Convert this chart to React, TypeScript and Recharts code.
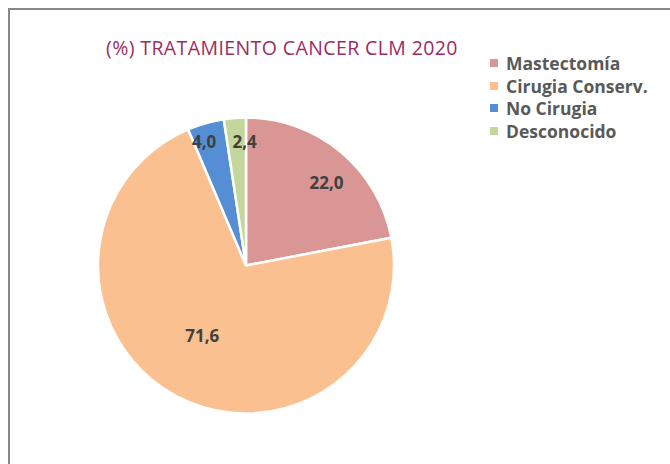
import { Cell, Legend, Pie, PieChart } from "recharts";

const CATEGORIES = ["Mastectomía", "Cirugia Conserv.", "No Cirugia", "Desconocido"];
const VALUES = [22.0, 71.6, 4.0, 2.4];
const COLORS = ["#D99694", "#FAC090", "#558ED5", "#C3D69B"];

const TITLE = "(%) TRATAMIENTO CANCER CLM 2020";

// posición de las etiquetas: fracción del radio + pequeño ajuste en px
const LABEL_RATIO = [0.78, 0.556, 0.888, 0.841];
const LABEL_NUDGE = [
  [7, 6],
  [-5, -3],
  [-6, 2],
  [8, 0],
];

const FONT = "'Open Sans', 'Noto Sans', sans-serif";
const RAD = Math.PI / 180;

const data = CATEGORIES.map((name, i) => ({ name, value: VALUES[i] }));

function SliceLabel(props: any) {
  const { cx, cy, midAngle, outerRadius, index, value } = props;
  const r = outerRadius * LABEL_RATIO[index];
  const x = cx + r * Math.cos(-midAngle * RAD) + LABEL_NUDGE[index][0];
  const y = cy + r * Math.sin(-midAngle * RAD) + LABEL_NUDGE[index][1];
  return (
    <text
      x={x}
      y={y}
      fill="#404040"
      fontFamily={FONT}
      fontWeight={700}
      fontSize={17}
      textAnchor="middle"
      dominantBaseline="central"
    >
      {value.toFixed(1).replace(".", ",")}
    </text>
  );
}

function LegendBox() {
  return (
    <div style={{ fontFamily: FONT, fontWeight: 700, fontSize: 17.5, color: "#595959" }}>
      {CATEGORIES.map((c, i) => (
        <div key={c} style={{ display: "flex", alignItems: "center", height: 22.5 }}>
          <span
            style={{
              width: 8,
              height: 8,
              background: COLORS[i],
              display: "inline-block",
              marginRight: 8,
            }}
          />
          <span>{c}</span>
        </div>
      ))}
    </div>
  );
}

export default function App() {
  return (
    <div
      style={{
        position: "absolute",
        left: 0,
        top: 0,
        width: 670,
        height: 464,
        overflow: "hidden",
        background: "#fff",
      }}
    >
      <div
        style={{
          position: "absolute",
          left: 8,
          top: 8,
          width: 700,
          height: 500,
          border: "2.5px solid #878787",
          boxSizing: "border-box",
        }}
      />
      <div
        style={{
          position: "absolute",
          left: 106,
          top: 34,
          fontFamily: FONT,
          fontSize: 19.5,
          color: "#9B2D5F",
          whiteSpace: "nowrap",
          letterSpacing: 0.4,
        }}
      >
        {TITLE}
      </div>
      <div style={{ position: "absolute", left: 0, top: 0 }}>
        <PieChart width={670} height={464} margin={{ top: 0, right: 0, bottom: 0, left: 0 }}>
          <Pie
            data={data}
            dataKey="value"
            nameKey="name"
            cx={246}
            cy={265.5}
            outerRadius={148}
            startAngle={90}
            endAngle={-270}
            stroke="#fff"
            strokeWidth={2.5}
            label={SliceLabel}
            labelLine={false}
            isAnimationActive={false}
          >
            {data.map((_, i) => (
              <Cell key={i} fill={COLORS[i]} />
            ))}
          </Pie>
          <Legend
            layout="vertical"
            align="right"
            verticalAlign="top"
            content={<LegendBox />}
            wrapperStyle={{ left: 490, top: 52, width: 180 }}
          />
        </PieChart>
      </div>
    </div>
  );
}
